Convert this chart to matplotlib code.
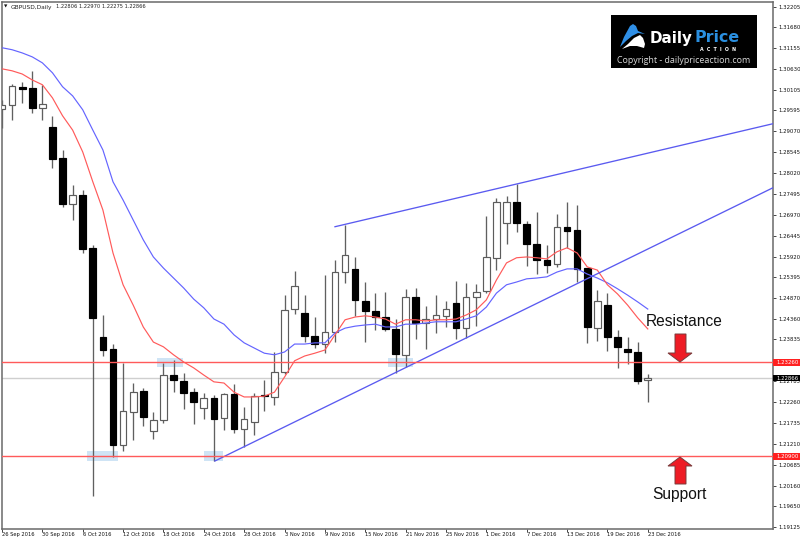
import matplotlib
matplotlib.use("Agg")
import matplotlib.pyplot as plt
from matplotlib.patches import Polygon, Rectangle
from matplotlib.transforms import blended_transform_factory

# Daily GBP/USD candles, one entry per trading day
opens = [1.2963, 1.2973, 1.3019, 1.3016, 1.2966, 1.2918, 1.2840, 1.2724, 1.2747, 1.2614,
         1.2390, 1.2360, 1.2118, 1.2201, 1.2254, 1.2153, 1.2181, 1.2294, 1.2279, 1.2251,
         1.2211, 1.2236, 1.2186, 1.2246, 1.2158, 1.2176, 1.2244, 1.2239, 1.2302, 1.2460,
         1.2450, 1.2392, 1.2372, 1.2402, 1.2553, 1.2561, 1.2480, 1.2455, 1.2440, 1.2410,
         1.2345, 1.2490, 1.2425, 1.2435, 1.2443, 1.2475, 1.2412, 1.2490, 1.2505, 1.2589,
         1.2677, 1.2729, 1.2674, 1.2624, 1.2584, 1.2573, 1.2667, 1.2659, 1.2563, 1.2412,
         1.2470, 1.2390, 1.2360, 1.2352, 1.22806]
highs = [1.2986, 1.3026, 1.3031, 1.3059, 1.3024, 1.2946, 1.2860, 1.2772, 1.2760, 1.2621,
         1.2445, 1.2372, 1.2325, 1.2274, 1.2262, 1.2201, 1.2325, 1.2332, 1.2299, 1.2262,
         1.2249, 1.2244, 1.2249, 1.2272, 1.2214, 1.2249, 1.2282, 1.2352, 1.2495, 1.2556,
         1.2495, 1.2440, 1.2546, 1.2584, 1.2672, 1.2591, 1.2528, 1.2500, 1.2503, 1.2435,
         1.2511, 1.2513, 1.2468, 1.2495, 1.2480, 1.2531, 1.2526, 1.2523, 1.2694, 1.2739,
         1.2744, 1.2775, 1.2682, 1.2704, 1.2621, 1.2699, 1.2729, 1.2722, 1.2563, 1.2508,
         1.2500, 1.2408, 1.2390, 1.2377, 1.22970]
lows = [1.2915, 1.2936, 1.2978, 1.2953, 1.2936, 1.2815, 1.2717, 1.2684, 1.2601, 1.1990,
        1.2342, 1.2088, 1.2103, 1.2131, 1.2166, 1.2133, 1.2174, 1.2251, 1.2209, 1.2171,
        1.2184, 1.2078, 1.2156, 1.2148, 1.2113, 1.2143, 1.2204, 1.2219, 1.2297, 1.2448,
        1.2377, 1.2362, 1.2349, 1.2377, 1.2526, 1.2443, 1.2377, 1.2408, 1.2405, 1.2299,
        1.2314, 1.2385, 1.2360, 1.2400, 1.2415, 1.2385, 1.2387, 1.2418, 1.2500, 1.2558,
        1.2624, 1.2654, 1.2568, 1.2548, 1.2551, 1.2566, 1.2614, 1.2528, 1.2375, 1.2380,
        1.2355, 1.2312, 1.2322, 1.2272, 1.22275]
closes = [1.2973, 1.3021, 1.3014, 1.2966, 1.2976, 1.2838, 1.2724, 1.2747, 1.2611, 1.2438,
          1.2357, 1.2118, 1.2204, 1.2251, 1.2189, 1.2181, 1.2294, 1.2282, 1.2249, 1.2226,
          1.2236, 1.2184, 1.2246, 1.2158, 1.2184, 1.2241, 1.2241, 1.2302, 1.2458, 1.2518,
          1.2392, 1.2372, 1.2402, 1.2553, 1.2596, 1.2483, 1.2455, 1.2440, 1.2410, 1.2347,
          1.2490, 1.2425, 1.2435, 1.2445, 1.2460, 1.2412, 1.2490, 1.2503, 1.2591, 1.2729,
          1.2729, 1.2677, 1.2624, 1.2584, 1.2571, 1.2667, 1.2656, 1.2561, 1.2415, 1.2480,
          1.2390, 1.2365, 1.2352, 1.2279, 1.22866]

# Moving averages
ema_slow = [1.3117, 1.3112, 1.3104, 1.3094, 1.3079, 1.3054, 1.3019, 1.2996, 1.2961, 1.2910,
            1.2860, 1.2780, 1.2734, 1.2684, 1.2634, 1.2591, 1.2563, 1.2538, 1.2513, 1.2485,
            1.2463, 1.2435, 1.2422, 1.2395, 1.2375, 1.2362, 1.2349, 1.2345, 1.2352, 1.2372,
            1.2372, 1.2375, 1.2375, 1.2400, 1.2412, 1.2417, 1.2420, 1.2422, 1.2415, 1.2415,
            1.2422, 1.2422, 1.2425, 1.2428, 1.2428, 1.2428, 1.2435, 1.2443, 1.2465, 1.2500,
            1.2521, 1.2528, 1.2536, 1.2538, 1.2541, 1.2553, 1.2561, 1.2561, 1.2548, 1.2538,
            1.2526, 1.2511, 1.2495, 1.2478, 1.2460]
ema_fast = [1.3064, 1.3059, 1.3051, 1.3036, 1.3024, 1.2991, 1.2946, 1.2910, 1.2855, 1.2780,
            1.2709, 1.2601, 1.2521, 1.2470, 1.2415, 1.2377, 1.2365, 1.2345, 1.2327, 1.2312,
            1.2294, 1.2277, 1.2274, 1.2251, 1.2239, 1.2239, 1.2241, 1.2251, 1.2289, 1.2330,
            1.2342, 1.2349, 1.2357, 1.2395, 1.2433, 1.2440, 1.2443, 1.2440, 1.2435, 1.2422,
            1.2433, 1.2433, 1.2430, 1.2433, 1.2433, 1.2435, 1.2445, 1.2458, 1.2483, 1.2533,
            1.2576, 1.2589, 1.2591, 1.2589, 1.2586, 1.2604, 1.2614, 1.2601, 1.2566, 1.2558,
            1.2521, 1.2498, 1.2470, 1.2438, 1.2410]

date_labels = ["26 Sep 2016", "30 Sep 2016", "6 Oct 2016", "12 Oct 2016", "18 Oct 2016",
               "24 Oct 2016", "28 Oct 2016", "3 Nov 2016", "9 Nov 2016", "15 Nov 2016",
               "21 Nov 2016", "25 Nov 2016", "1 Dec 2016", "7 Dec 2016", "13 Dec 2016",
               "19 Dec 2016", "23 Dec 2016"]
price_ticks = [1.32205, 1.31680, 1.31155, 1.30630, 1.30105, 1.29595, 1.29070, 1.28545, 1.28020,
               1.27495, 1.26970, 1.26445, 1.25920, 1.25395, 1.24870, 1.24360, 1.23835, 1.22785,
               1.22260, 1.21735, 1.21210, 1.20685, 1.20160, 1.19650, 1.19125]

resistance_level = 1.23260
support_level = 1.20900
last_price = 1.22866
header_name = "GBPUSD,Daily"
header_quote = "1.22806 1.22970 1.22275 1.22866"

# Trendlines: (bar, price) anchors
rising_support = ([21.1, 76.41], [1.2078, 1.2765])
rising_resistance = ([33.0, 76.41], [1.2667, 1.2926])

W, H = 800, 542
RED = "#ff5a5a"
BLUE = "#6464ff"
ZONE = "#cfe4f5"
FRAME = "#6a6a6a"
TICK_FONT = "DejaVu Sans"
TS = 3.85

fig = plt.figure(figsize=(W / 100, H / 100), dpi=100, facecolor="white")


def fx(px):
    return px / W


def fy(py):
    return 1 - py / H


ax = fig.add_axes([fx(2), fy(529), fx(771), 527 / H])
ax.set_xlim(0, 76.41)
ax.set_ylim(1.1907, 1.3232)

n = len(opens)
bars = list(range(n))

# Price-action zones behind the candles
zones = [(8.4, 11.5, 1.2078, 1.2103), (20.0, 21.9, 1.2078, 1.2103),
         (15.4, 17.9, 1.2315, 1.2337), (38.3, 40.7, 1.2315, 1.2337)]
for x0, x1, y0, y1 in zones:
    ax.add_patch(Rectangle((x0, y0), x1 - x0, y1 - y0, fc=ZONE, ec="none", zorder=1))

ax.axhline(last_price, color="#cfcfcf", lw=1.0, zorder=1.5)

# Candles
ax.vlines(bars, lows, highs, color="#606060", lw=0.95, zorder=2)
for i in bars:
    up = closes[i] >= opens[i]
    lo, hi = min(opens[i], closes[i]), max(opens[i], closes[i])
    ax.add_patch(Rectangle((i - 0.33, lo), 0.66, hi - lo,
                           fc="white" if up else "black",
                           ec="#5c5c5c" if up else "black",
                           lw=0.85, zorder=3))

ax.plot(bars, ema_slow, color=BLUE, lw=0.85, zorder=4)
ax.plot(bars, ema_fast, color=RED, lw=0.85, zorder=4)
ax.plot(*rising_support, color="#5a5af0", lw=0.95, zorder=4)
ax.plot(*rising_resistance, color="#5a5af0", lw=0.95, zorder=4)
ax.axhline(resistance_level, color=RED, lw=1.0, zorder=5)
ax.axhline(support_level, color=RED, lw=1.0, zorder=5)

# Frame and axes
for side in ax.spines.values():
    side.set_color(FRAME)
    side.set_linewidth(1.1)
ax.yaxis.tick_right()
ax.set_yticks(price_ticks)
ax.set_yticklabels([f"{t:.5f}" for t in price_ticks], fontsize=TS, family=TICK_FONT, color="#111111")
ax.set_xticks(list(range(0, 4 * len(date_labels), 4)))
ax.set_xticklabels(date_labels, fontsize=3.7, family=TICK_FONT, color="#111111", ha="left")
ax.tick_params(axis="y", length=2.2, width=0.7, color="#444444", pad=1.5)
ax.tick_params(axis="x", length=2.0, width=0.7, color="#444444", pad=0.3)

# Price tags on the right scale
tag = blended_transform_factory(ax.transAxes, ax.transData)
right_edge = (800 - 2) / 771
for level, colour in [(resistance_level, "#ff2020"), (last_price, "black"), (support_level, "#ff2020")]:
    ax.add_patch(Rectangle((1.0, level - 0.00085), right_edge - 1.0, 0.0017, transform=tag,
                           fc=colour, ec="none", clip_on=False, zorder=6))
    ax.text(1.0045, level, f"{level:.5f}", transform=tag, color="white", fontsize=TS,
            family=TICK_FONT, va="center", ha="left", clip_on=False, zorder=7)

# Symbol header
fig.text(fx(4), fy(7), "\u25bc", fontsize=3.2, family=TICK_FONT, va="center", color="#111111")
fig.text(fx(11), fy(7), header_name, fontsize=4.25, family=TICK_FONT, va="center", color="#222222")
fig.text(fx(55.5), fy(7), header_quote, fontsize=3.7, family=TICK_FONT, va="center", color="#222222")


def fig_poly(points, **kw):
    fig.add_artist(Polygon([(fx(x), fy(y)) for x, y in points], closed=True,
                           transform=fig.transFigure, **kw))


# Annotation arrows
fig_poly([(675, 334), (686, 334), (686, 353), (692, 353), (680, 362), (668, 353), (675, 353)],
         fc="#ee1c25", ec="#7a3a3a", lw=0.7, zorder=8)
fig_poly([(675, 484), (686, 484), (686, 466), (692, 466), (680, 457), (668, 466), (675, 466)],
         fc="#ee1c25", ec="#7a3a3a", lw=0.7, zorder=8)
fig.text(fx(646), fy(321), "Resistance", fontsize=11.2, family="Liberation Sans", va="center",
         color="#111111", zorder=8)
fig.text(fx(652), fy(494), "Support", fontsize=11.2, family="Liberation Sans", va="center",
         color="#111111", zorder=8)

# Watermark badge
fig.add_artist(Rectangle((fx(611), fy(68)), 146 / W, 53 / H, transform=fig.transFigure,
                         fc="black", ec="none", zorder=9))
fig_poly([(620, 47), (624, 37), (630, 26), (633, 24), (636, 26), (638, 31), (645, 34),
          (638, 33), (632, 36), (626, 41)], fc="#2f8fe6", ec="none", zorder=10)
fig_poly([(622, 49), (628, 44), (634, 38), (640, 35), (643, 38), (645, 44), (644, 48),
          (637, 46), (630, 46)], fc="white", ec="none", zorder=10)
fig.text(fx(650), fy(42.5), "Daily", fontsize=10.9, family="DejaVu Sans", weight="bold",
         color="white", va="baseline", zorder=10)
fig.text(fx(695), fy(42.5), "Price", fontsize=11.4, family="DejaVu Sans", weight="bold",
         color="#2a8fe0", va="baseline", zorder=10)
fig.text(fx(700), fy(49.5), "A  C  T  I  O  N", fontsize=3.4, family="DejaVu Sans", weight="bold",
         color="white", va="center", zorder=11)
fig.text(fx(617), fy(60), "Copyright - dailypriceaction.com", fontsize=6.4, family="Open Sans",
         color="#d8d8d8", va="center", zorder=10)

fig.savefig("out.png", dpi=100, facecolor="white")
